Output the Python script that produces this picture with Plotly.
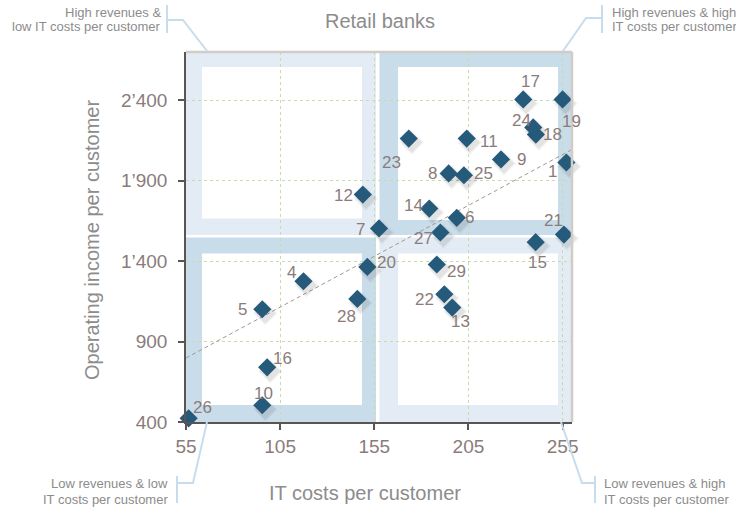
import plotly.graph_objects as go

# Retail banks: IT costs vs operating income per customer
bank_ids = [1, 4, 5, 6, 7, 8, 9, 10, 11, 12, 13, 14, 15, 16, 17, 18, 19,
            20, 21, 22, 23, 24, 25, 26, 27, 28, 29]
it_costs = [257, 117.4, 95.5, 198.8, 157.5, 194.5, 222.3, 95.5, 204.1, 148.9,
            196.4, 184.2, 240.7, 98.1, 234.1, 240.8, 255, 151.3, 255.7, 192.2,
            173.3, 239.4, 202.6, 56.4, 190.1, 146, 188.2]
op_income = [2013, 1275, 1101, 1669, 1603, 1945, 2032, 504, 2162, 1814,
             1111, 1727, 1518, 740, 2405, 2187, 2405, 1364, 1565, 1194,
             2162, 2231, 1934, 423, 1578, 1165, 1379]

# Dashed trend line end points
trend_x = [55, 260]
trend_y = [798, 2094]

x_ticks = [55, 105, 155, 205, 255]
y_ticks = [400, 900, 1400, 1900, 2400]
y_tick_text = ["400", "900", "1\u2019400", "1\u2019900", "2\u2019400"]

X_RANGE = [55, 260]
Y_RANGE = [400, 2700]

# label offsets in pixels (dx right, dy down) around each marker
LABEL_OFFSETS = {
    1: (-14, 9), 4: (-12, -9), 5: (-20, 0), 6: (13, 0), 7: (-19, 1),
    8: (-16, 0), 9: (20, 0), 10: (1, -12), 11: (22, 3), 12: (-19, 1),
    13: (8, 14), 14: (-16, -3), 15: (2, 20), 16: (15, -9), 17: (7, -18),
    18: (17, 0), 19: (9, 22), 20: (19, -4), 21: (-10, -14), 22: (-20, 5),
    23: (-17, 24), 24: (-12, -7), 25: (20, -2), 26: (14, -11), 27: (-17, 6),
    28: (-11, 18), 29: (20, 7),
}

W, H = 736, 507
ML, MR, MT, MB = 186, 164, 52, 85
PW, PH = W - ML - MR, H - MT - MB

MARKER = "#255a7b"
LABEL = "#8a7c7b"
GREY = "#8c8c8c"
LIGHT_Q = "#e3ecf5"
DARK_Q = "#c9dcea"
CALLOUT = "#c7dded"
FONT = "Liberation Sans, Arial, sans-serif"

# data units per pixel (for the drop shadow offset)
ux = (X_RANGE[1] - X_RANGE[0]) / PW
uy = (Y_RANGE[1] - Y_RANGE[0]) / PH

fig = go.Figure()

fig.add_trace(go.Scatter(
    x=trend_x, y=trend_y, mode="lines",
    line=dict(color="#a39690", width=1, dash="4px,3px"),
    hoverinfo="skip", showlegend=False,
))

# soft drop shadow under the diamonds
for size, alpha in ((19, 0.05), (16, 0.09)):
    fig.add_trace(go.Scatter(
        x=[v + 3 * ux for v in it_costs], y=[v - 4 * uy for v in op_income],
        mode="markers",
        marker=dict(symbol="diamond", size=size,
                    color=f"rgba(60,60,60,{alpha})"),
        hoverinfo="skip", showlegend=False, cliponaxis=False,
    ))

fig.add_trace(go.Scatter(
    x=it_costs, y=op_income, mode="markers", text=bank_ids,
    marker=dict(symbol="diamond", size=14, color=MARKER),
    showlegend=False, cliponaxis=False,
))

annotations = []
for bid, xv, yv in zip(bank_ids, it_costs, op_income):
    dx, dy = LABEL_OFFSETS[bid]
    annotations.append(dict(
        x=xv, y=yv, text=str(bid), showarrow=False, xshift=dx, yshift=-dy,
        xanchor="center", yanchor="middle",
        font=dict(family=FONT, size=17, color=LABEL),
    ))


def px_x(p):
    return (p - ML) / PW


def px_y(p):
    return (MT + PH - p) / PH


# titles
annotations.append(dict(
    x=px_x(380), y=px_y(21), xref="paper", yref="paper", text="Retail banks",
    showarrow=False, xanchor="center", yanchor="middle",
    font=dict(family=FONT, size=20, color=GREY),
))
annotations.append(dict(
    x=px_x(365), y=px_y(493), xref="paper", yref="paper",
    text="IT costs per customer", showarrow=False,
    xanchor="center", yanchor="middle",
    font=dict(family=FONT, size=20, color=GREY),
))
annotations.append(dict(
    x=px_x(92), y=px_y(240), xref="paper", yref="paper",
    text="Operating income per customer", showarrow=False, textangle=-90,
    xanchor="center", yanchor="middle",
    font=dict(family=FONT, size=20, color=GREY),
))

# quadrant captions
captions = [
    (163, "right", 12.5, "High revenues &"),
    (163, "right", 26.5, "low IT costs per customer"),
    (610, "left", 12.0, "High revenues & high"),
    (610, "left", 26.5, "IT costs per customer"),
    (170, "right", 483.5, "Low revenues & low"),
    (170, "right", 499.5, "IT costs per customer"),
    (602, "left", 483.5, "Low revenues & high"),
    (602, "left", 499.5, "IT costs per customer"),
]
for cx, anchor, cy, txt in captions:
    annotations.append(dict(
        x=px_x(cx), y=px_y(cy), xref="paper", yref="paper", text=txt,
        showarrow=False, xanchor=anchor, yanchor="middle",
        font=dict(family=FONT, size=13, color=GREY),
    ))

shapes = []


def quad(x0, x1, y0, y1, ix0, ix1, iy0, iy1, color):
    shapes.append(dict(type="rect", xref="x domain", yref="y domain",
                       x0=px_x(x0), x1=px_x(x1), y0=px_y(y1), y1=px_y(y0),
                       fillcolor=color, line=dict(width=0), layer="below"))
    shapes.append(dict(type="rect", xref="x domain", yref="y domain",
                       x0=px_x(ix0), x1=px_x(ix1), y0=px_y(iy1), y1=px_y(iy0),
                       fillcolor="white", line=dict(width=0), layer="below"))


top, bottom, left, right = MT, MT + PH, ML, ML + PW
# upper left / upper right / lower left / lower right
quad(left, 376, top, 235, 202, 362, 67, 218.5, LIGHT_Q)
quad(379.5, right, top, 235, 398, 558, 67, 220, DARK_Q)
quad(left, 376, 237.5, bottom, 202, 362, 253.5, 405, DARK_Q)
quad(379.5, right, 237.5, bottom, 398, 558, 253.5, 405, LIGHT_Q)

# light frame on top and right
shapes.append(dict(type="line", xref="paper", yref="paper",
                   x0=0, x1=1, y0=1, y1=1,
                   line=dict(color="#d3cbc5", width=2.5)))
shapes.append(dict(type="line", xref="paper", yref="paper",
                   x0=1, x1=1, y0=0, y1=1,
                   line=dict(color="#d3cbc5", width=2.5)))


def callout(points):
    path = "M " + " L ".join(f"{px_x(a):.4f},{px_y(b):.4f}" for a, b in points)
    shapes.append(dict(type="path", xref="paper", yref="paper", path=path,
                       line=dict(color=CALLOUT, width=2), layer="above"))


callout([(207, 51), (183, 20), (167, 20)])
callout([(167, 5), (167, 33)])
callout([(563, 51), (586, 18), (602, 18)])
callout([(602, 5), (602, 33)])
callout([(207, 422), (193, 483), (177, 483)])
callout([(177, 476), (177, 503)])
callout([(561, 422), (582, 483), (595, 483)])
callout([(595, 476), (595, 503)])

axis_common = dict(
    showline=True, linecolor="#5a5553", linewidth=1.5,
    ticks="outside", ticklen=6, tickwidth=1.5, tickcolor="#5a5553",
    showgrid=True, gridcolor="#c6dcad", griddash="dot", gridwidth=1,
    zeroline=False,
    tickfont=dict(family=FONT, size=19, color=LABEL),
)

fig.update_xaxes(range=X_RANGE, tickvals=x_ticks, **axis_common)
fig.update_yaxes(range=Y_RANGE, tickvals=y_ticks, ticktext=y_tick_text,
                 ticklabelstandoff=7, **axis_common)

fig.update_layout(
    width=W, height=H,
    margin=dict(l=ML, r=MR, t=MT, b=MB),
    paper_bgcolor="white", plot_bgcolor="rgba(0,0,0,0)",
    shapes=shapes, annotations=annotations,
    font=dict(family=FONT),
    showlegend=False,
)

fig.write_html("out.html")
